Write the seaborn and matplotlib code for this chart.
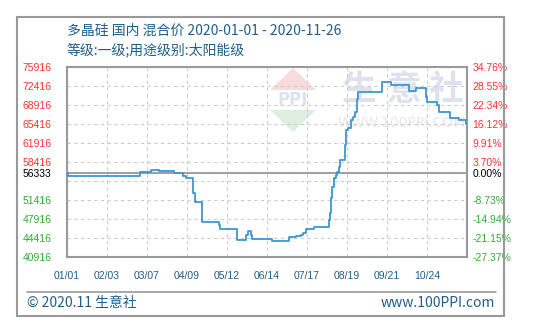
import matplotlib
matplotlib.use("Agg")
import matplotlib.pyplot as plt
import seaborn as sns
import pandas as pd
from matplotlib.patches import Polygon, Rectangle
from matplotlib.lines import Line2D

# ---------------- data ----------------
dates = ["2020-01-01", "2020-01-02", "2020-03-01", "2020-03-10", "2020-03-17",
         "2020-03-29", "2020-04-06", "2020-04-08", "2020-04-14", "2020-04-16",
         "2020-04-21", "2020-05-05", "2020-05-06", "2020-05-20", "2020-05-28",
         "2020-05-29", "2020-06-01", "2020-06-02", "2020-06-18", "2020-07-02",
         "2020-07-08", "2020-07-12", "2020-07-14", "2020-07-16", "2020-07-23",
         "2020-08-04", "2020-08-05", "2020-08-06", "2020-08-07", "2020-08-08",
         "2020-08-10", "2020-08-11", "2020-08-12", "2020-08-13", "2020-08-17",
         "2020-08-18", "2020-08-20", "2020-08-22", "2020-08-24", "2020-08-26",
         "2020-08-27", "2020-08-28", "2020-09-17", "2020-09-24", "2020-10-09",
         "2020-10-15", "2020-10-23", "2020-10-24", "2020-11-01", "2020-11-03",
         "2020-11-12", "2020-11-19", "2020-11-25", "2020-11-26"]
prices = [56333, 55900, 56520, 56890, 56700,
          56340, 55900, 55410, 52760, 50990,
          47310, 46810, 46020, 43990, 44970,
          45650, 44900, 44230, 43860, 44540,
          44780, 44970, 45290, 46020, 46390,
          47730, 48970, 51730, 53870, 55410,
          56020, 56630, 57550, 58780, 61550,
          64310, 64630, 66150, 66760, 67680,
          70100, 71370, 73100, 72600, 71550,
          72000, 70450, 69520, 69000, 67570,
          66580, 66150, 65400, 65400]

base_price = 56333
y_ticks = [75916, 72416, 68916, 65416, 61916, 58416, 56333, 54916,
           51416, 47916, 44416, 40916]
y_left_labels = ["75916", "72416", "68916", "65416", "61916", "58416", "56333", "",
                 "51416", "47916", "44416", "40916"]
y_right_labels = ["34.76%", "28.55%", "22.34%", "16.12%", "9.91%", "3.70%", "0.00%", "",
                  "-8.73%", "-14.94%", "-21.15%", "-27.37%"]
x_tick_dates = ["2020-01-01", "2020-02-03", "2020-03-07", "2020-04-09", "2020-05-12",
                "2020-06-14", "2020-07-17", "2020-08-19", "2020-09-21", "2020-10-24"]
x_tick_labels = ["01/01", "02/03", "03/07", "04/09", "05/12",
                 "06/14", "07/17", "08/19", "09/21", "10/24"]

title1 = "多晶硅 国内 混合价 2020-01-01 - 2020-11-26"
title2 = "等级:一级;用途级别:太阳能级"
footer_left = "© 2020.11 生意社"
footer_right = "www.100PPI.com"

# ---------------- style ----------------
sns.set_style("white")
plt.rcParams['font.family'] = ['Noto Sans CJK SC', 'DejaVu Sans']

W, H = 535, 334
fig = plt.figure(figsize=(W / 100, H / 100), dpi=100)
fig.patch.set_facecolor("white")


def fx(px):
    return px / W


def fy(py):
    return 1 - py / H


ax = fig.add_axes([fx(67), fy(257), fx(467) - fx(67), fy(67) - fy(257)])

df = pd.DataFrame({"date": pd.to_datetime(dates), "price": prices})

# watermark (behind the line)
wm_blue = "#dde2ec"
ax.add_patch(Polygon([[fx(293), fy(68)], [fx(270), fy(90)], [fx(316), fy(90)]],
                     closed=True, transform=fig.transFigure, facecolor="#f8dcdc",
                     edgecolor="none", zorder=0.2))
ax.add_patch(Polygon([[fx(270), fy(110)], [fx(316), fy(110)], [fx(293), fy(132)]],
                     closed=True, transform=fig.transFigure, facecolor="#dcefdf",
                     edgecolor="none", zorder=0.2))
ax.text(fx(293), fy(100), "PPI", transform=fig.transFigure, ha="center", va="center",
        fontsize=12, fontweight="bold", color=wm_blue, family=["DejaVu Sans"], zorder=0.2)
for ch, cx in zip("生意社", [359, 404, 446]):
    ax.text(fx(cx), fy(89), ch, transform=fig.transFigure, ha="center", va="center",
            fontsize=25, fontweight="bold", color=wm_blue, zorder=0.2)
ax.text(fx(402), fy(123), "WWW.100PPI.COM", transform=fig.transFigure, ha="center",
        va="center", fontsize=10, color="#e6e6e6", family=["DejaVu Sans"], zorder=0.2)

sns.lineplot(data=df, x="date", y="price", ax=ax, drawstyle="steps-post",
             color="#3b97d3", linewidth=1.3, zorder=3)

ax.set_xlim(pd.Timestamp("2020-01-01"), pd.Timestamp("2020-11-26"))
ax.set_ylim(40916, 75916)
ax.set_xlabel("")
ax.set_ylabel("")

ax.set_yticks(y_ticks)
ax.set_yticklabels(y_left_labels)
ax.set_xticks(pd.to_datetime(x_tick_dates))
ax.set_xticklabels(x_tick_labels)

ax.grid(True, linestyle=(0, (3, 3)), color="#cccccc", linewidth=0.8)
ax.axhline(base_price, color="#999999", linewidth=1.3, zorder=2)

label_colors = []
for v in y_ticks:
    if v > base_price:
        label_colors.append("#ff3333")
    elif v == base_price:
        label_colors.append("#000000")
    else:
        label_colors.append("#33aa33")

ax.tick_params(axis="y", length=0, pad=11, labelsize=7.5)
ax.tick_params(axis="x", length=0, pad=10, labelsize=7.5, labelcolor="#1f5f8b")
for lbl, c in zip(ax.get_yticklabels(), label_colors):
    lbl.set_color(c)
    lbl.set_family(["Liberation Sans"])
for lbl in ax.get_xticklabels():
    lbl.set_family(["Liberation Sans"])

for s in ax.spines.values():
    s.set_color("#999999")
    s.set_linewidth(1.5)

ax2 = ax.twinx()
ax2.set_ylim(40916, 75916)
ax2.set_yticks(y_ticks)
ax2.set_yticklabels(y_right_labels)
ax2.tick_params(axis="y", length=0, pad=4, labelsize=7.5)
for lbl, c in zip(ax2.get_yticklabels(), label_colors):
    lbl.set_color(c)
    lbl.set_family(["Liberation Sans"])
for s in ax2.spines.values():
    s.set_visible(False)
ax2.grid(False)

# header and footer
text_color = "#1f5f8b"
fig.text(fx(67), fy(31), title1, fontsize=10, color=text_color, ha="left", va="center")
fig.text(fx(67), fy(50), title2, fontsize=10, color=text_color, ha="left", va="center")
fig.text(fx(27), fy(303), footer_left, fontsize=10, color=text_color, ha="left", va="center")
fig.text(fx(495), fy(303), footer_right, fontsize=10, color=text_color, ha="right", va="center")

fig.add_artist(Line2D([fx(27), fx(496)], [fy(292), fy(292)], color="#999999", linewidth=1.2))
fig.add_artist(Rectangle((fx(17), fy(316)), fx(504) - fx(17), fy(17) - fy(316),
                         fill=False, edgecolor="#999999", linewidth=1.5))

fig.savefig("out.png", dpi=100)
